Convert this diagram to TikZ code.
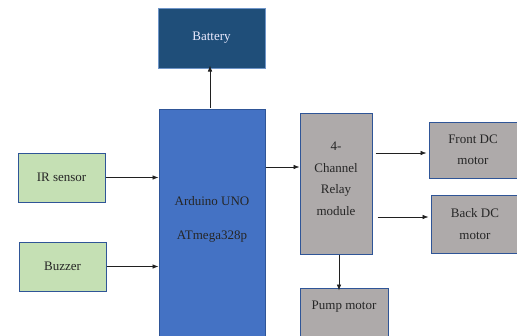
\documentclass[tikz,border=0pt]{standalone}
\usepackage{fontspec}
\setmainfont{Liberation Serif}
\usetikzlibrary{arrows.meta}
\definecolor{batfill}{HTML}{1F4E79}
\definecolor{batdraw}{HTML}{6F95C8}
\definecolor{ardfill}{HTML}{4472C4}
\definecolor{blueedge}{HTML}{2F5597}
\definecolor{grnfill}{HTML}{C5E0B4}
\definecolor{gryfill}{HTML}{AEAAAA}
\definecolor{arr}{HTML}{202020}
\tikzset{
  box/.style={draw=blueedge, line width=1pt, inner sep=0pt, align=center,
    font=\fontsize{13}{21.5}\selectfont, anchor=center},
  batbox/.style={box, fill=batfill, draw=batdraw, text=white!92!blue},
  ardbox/.style={box, fill=ardfill, text=black!85},
  grnbox/.style={box, fill=grnfill, text=black!85},
  grybox/.style={box, fill=gryfill, text=black!85},
  conn/.style={draw=arr, line width=0.6pt, -{Latex[length=6pt,width=4.5pt]}}
}
\begin{document}
\begin{tikzpicture}[x=1pt,y=-1pt]
\useasboundingbox (0,0) rectangle (517,335);
\clip (0,0) rectangle (517,335);
\node[batbox, minimum width=107pt, minimum height=60pt] (bat) at (211.5,38) {Battery};
\node[ardbox, minimum width=106pt, minimum height=240pt] (ard) at (212,229) {};
\node[text=black!85, font=\fontsize{13}{34}\selectfont, align=center] (ardt) at (212,219) {Arduino UNO\\ATmega328p};
\node[grnbox, minimum width=87pt, minimum height=49pt] (ir) at (61.5,177.5) {IR sensor};
\node[grnbox, minimum width=87pt, minimum height=49pt] (buz) at (62.5,266.5) {Buzzer};
\node[grybox, minimum width=72pt, minimum height=141pt] (relay) at (336,183.5) {};
\node[text=black!85, font=\fontsize{13}{21.5}\selectfont, align=center] (relayt) at (336,179) {4-\\Channel\\Relay\\module};
\node[grybox, minimum width=88pt, minimum height=56pt] (front) at (473,150) {Front DC\\motor};
\node[grybox, minimum width=88pt, minimum height=58pt] (back) at (475,224) {Back DC\\motor};
\node[grybox, minimum width=88pt, minimum height=60pt] (pump) at (344,318) {};
\node[text=black!85, font=\fontsize{13}{16}\selectfont] (pumpt) at (344,307) {Pump motor};
\draw[conn] (ard.north -| 210,0) ++(0,-1) -- ([yshift=3pt]bat.south -| 210,0);
\draw[conn] (ir.east) -- (ard.west |- ir.east);
\draw[conn] (buz.east) -- (ard.west |- buz.east);
\draw[conn] (ard.east |- 0,167) -- (relay.west |- 0,167);
\draw[conn] ([xshift=3pt]relay.east |- 0,153) -- ([xshift=-2pt]front.west |- 0,153);
\draw[conn] ([xshift=5pt]relay.east |- 0,217) -- ([xshift=-2pt]back.west |- 0,217);
\draw[conn] (relay.south -| 339,0) -- ([yshift=-3pt]pump.north -| 339,0);
\end{tikzpicture}
\end{document}
